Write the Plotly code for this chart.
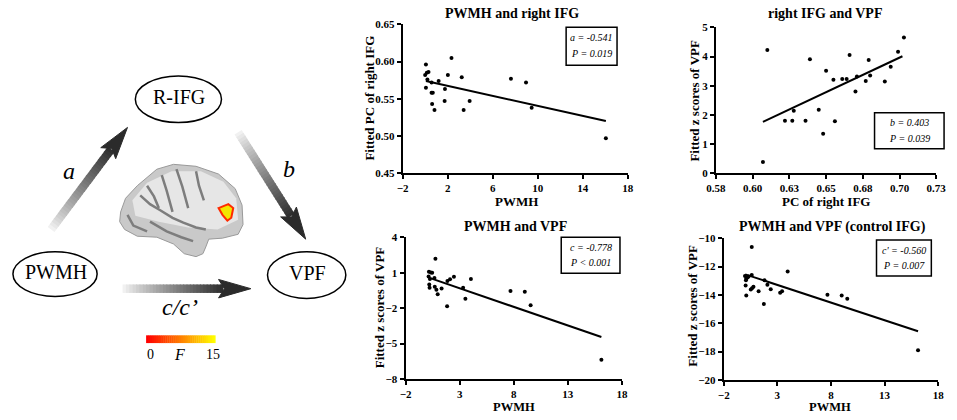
import math
import plotly.graph_objects as go

W, H = 957, 420
SERIF = "Liberation Serif"

# ---- data ----
# PWMH vs fitted PC of right IFG
p1_pwmh = [0.07, 0.0, 0.15, 0.3, 0.2, 0.07, 0.57, 0.57, 0.68, 0.62, 0.83, 1.2,
           1.76, 1.73, 2.02, 2.34, 3.25, 3.42, 3.95, 7.62, 8.96, 9.46, 16.05]
p1_pc = [0.596, 0.582, 0.585, 0.586, 0.576, 0.565, 0.572, 0.558, 0.558, 0.543,
         0.535, 0.574, 0.563, 0.547, 0.582, 0.605, 0.579, 0.535, 0.547, 0.577,
         0.572, 0.538, 0.497]
p1_fit_x = [0.07, 16.05]
p1_fit_y = [0.574, 0.520]

# PC of right IFG vs fitted z scores of VPF
p2_pc = [0.607, 0.610, 0.622, 0.627, 0.628, 0.636, 0.639, 0.645, 0.648, 0.650,
         0.655, 0.656, 0.661, 0.664, 0.666, 0.670, 0.671, 0.677, 0.679, 0.680,
         0.690, 0.694, 0.699, 0.703]
p2_vpf = [0.38, 4.22, 1.80, 1.80, 2.14, 1.80, 3.91, 2.17, 1.35, 3.51,
          3.20, 1.78, 3.23, 3.23, 4.05, 2.80, 3.31, 3.16, 3.88, 3.35,
          3.14, 3.65, 4.16, 4.65]
p2_fit_x = [0.607, 0.702]
p2_fit_y = [1.76, 4.01]

# PWMH vs fitted z scores of VPF
p3_pwmh = [0.16, 0.34, 0.46, 0.13, 0.25, 0.19, 0.22, 0.76, 0.67, 0.70, 0.85, 0.97,
           1.33, 1.84, 1.87, 2.11, 2.47, 3.32, 3.53, 4.04, 7.7, 9.02, 9.56, 16.1]
p3_vpf = [1.08, 1.02, 1.0, 0.67, 0.47, 0.0, -0.28, 2.17, 0.54, -0.2, -0.45, -0.83,
          -0.35, -1.84, 0.3, 0.44, 0.66, -0.28, -1.2, 0.47, -0.55, -0.61, -1.76, -6.36]
p3_fit_x = [0.28, 16.1]
p3_fit_y = [0.54, -4.45]

# PWMH vs fitted z scores of VPF (control IFG)
p4_pwmh = [-0.02, 0.1, 0.22, 0.31, 0.07, 0.04, 0.1, 0.61, 0.61, 0.52, 0.64, 0.77,
           1.25, 1.74, 1.8, 2.07, 2.38, 3.26, 3.44, 3.96, 7.67, 9.0, 9.52, 16.12]
p4_vpf = [-12.67, -12.85, -12.78, -12.71, -12.97, -13.33, -14.04, -10.62, -12.6,
          -13.62, -13.53, -13.42, -13.74, -14.65, -12.97, -13.28, -13.6, -13.85,
          -13.74, -12.35, -13.99, -14.04, -14.28, -17.9]
p4_fit_x = [0.0, 16.12]
p4_fit_y = [-12.55, -16.56]

p2_tickvals = [0.575, 0.6, 0.625, 0.65, 0.675, 0.7, 0.725]
p2_ticktext = ["0.58", "0.60", "0.63", "0.65", "0.68", "0.70", "0.73"]


def P(x, y):
    # pixel position -> paper coords
    return x / W, 1 - y / H


fig = go.Figure()

panels = [
    ("x", "y", p1_pwmh, p1_pc, p1_fit_x, p1_fit_y),
    ("x2", "y2", p2_pc, p2_vpf, p2_fit_x, p2_fit_y),
    ("x3", "y3", p3_pwmh, p3_vpf, p3_fit_x, p3_fit_y),
    ("x4", "y4", p4_pwmh, p4_vpf, p4_fit_x, p4_fit_y),
]
for xa, ya, xs, ys, fx, fy in panels:
    fig.add_trace(go.Scatter(x=xs, y=ys, mode="markers", xaxis=xa, yaxis=ya,
                             marker=dict(color="black", size=4), showlegend=False))
    fig.add_trace(go.Scatter(x=fx, y=fy, mode="lines", xaxis=xa, yaxis=ya,
                             line=dict(color="black", width=2), showlegend=False))


def ax(domain, rng, anchor, **kw):
    d = dict(domain=domain, range=rng, anchor=anchor, showline=True, linecolor="black",
             linewidth=2, ticks="outside", ticklen=4, tickwidth=2, tickcolor="black",
             showgrid=False, zeroline=False, ticklabeloverflow="allow",
             tickfont=dict(family=SERIF, size=11, color="black", weight=700))
    d.update(kw)
    return d


fig.update_layout(
    width=W, height=H, autosize=False,
    margin=dict(l=0, r=0, t=0, b=0),
    paper_bgcolor="white", plot_bgcolor="white",
    xaxis=ax([401 / W, 631 / W], [-2, 18], "y", tick0=-2, dtick=4),
    yaxis=ax([1 - 172 / H, 1 - 19 / H], [0.45, 0.65], "x", tick0=0.45, dtick=0.05, tickformat=".2f"),
    xaxis2=ax([721 / W, 946 / W], [0.575, 0.725], "y2", tickvals=p2_tickvals, ticktext=p2_ticktext),
    yaxis2=ax([1 - 172 / H, 1 - 22 / H], [0, 5], "x2", dtick=1),
    xaxis3=ax([404 / W, 625 / W], [-2, 18], "y3", tick0=-2, dtick=5),
    yaxis3=ax([1 - 384 / H, 1 - 238 / H], [-8, 4], "x3", tick0=-8, dtick=3),
    xaxis4=ax([729 / W, 948 / W], [-2, 18], "y4", tick0=-2, dtick=5),
    yaxis4=ax([1 - 385 / H, 1 - 239 / H], [-20, -10], "x4", tick0=-20, dtick=2),
)

ann = []
shapes = []


def text(x, y, s, size, angle=0, color="black"):
    px, py = P(x, y)
    ann.append(dict(x=px, y=py, xref="paper", yref="paper", text=s, showarrow=False,
                    xanchor="center", yanchor="middle", textangle=angle, borderpad=0,
                    font=dict(family=SERIF, size=size, color=color)))


# panel titles and axis labels
text(513, 8, "<b>PWMH and right IFG</b>", 14)
text(832, 8, "<b>right IFG and VPF</b>", 14)
text(516, 227, "<b>PWMH and VPF</b>", 14)
text(840, 228, "<b>PWMH and VPF (control IFG)</b>", 14)
text(517, 201, "<b>PWMH</b>", 13)
text(833, 201, "<b>PC of right IFG</b>", 13)
text(515, 412.5, "<b>PWMH</b>", 12.5)
text(838, 412.5, "<b>PWMH</b>", 12.5)
text(367, 95, "<b>Fitted PC of right IFG</b>", 13, -90)
text(699, 97, "<b>Fitted z scores of VPF</b>", 13, -90)
text(377, 310, "<b>Fitted z scores of VPF</b>", 13, -90)
text(697, 308, "<b>Fitted z scores of VPF</b>", 13, -90)

# stat boxes
boxes = [
    ((568, 22, 620, 61), "<i>a</i> = -0.541", "<i>P</i> = 0.019"),
    ((883, 110, 954, 147), "<i>b</i> = 0.403", "<i>P</i> = 0.039"),
    ((563, 238, 623, 275), "<i>c</i> = -0.778", "<i>P</i> &lt; 0.001"),
    ((885, 241, 941, 278), "<i>c' = -0.560</i>", "<i>P</i> = 0.007"),
]
for (x0, y0, x1, y1), t1, t2 in boxes:
    a0, b0 = P(x0, y0)
    a1, b1 = P(x1, y1)
    shapes.append(dict(type="rect", xref="paper", yref="paper", x0=a0, x1=a1, y0=b1, y1=b0,
                       line=dict(color="black", width=1.5)))
    cx = (x0 + x1) / 2
    h = y1 - y0
    text(cx, y0 + h * 0.28, "<i>" + t1 + "</i>", 10)
    text(cx, y0 + h * 0.70, "<i>" + t2 + "</i>", 10)

# ---- left diagram ----
for (cx, cy, rx, ry, label) in [(172, 96, 44, 24, "R-IFG"), (46, 276, 43, 23, "PWMH"),
                                (303, 277, 40, 24, "VPF")]:
    a0, b0 = P(cx - rx, cy - ry)
    a1, b1 = P(cx + rx, cy + ry)
    shapes.append(dict(type="circle", xref="paper", yref="paper", x0=a0, x1=a1, y0=b1, y1=b0,
                       line=dict(color="black", width=1.5)))
    text(cx + 1, cy - 2, label, 20)


def arrow(x0, y0, x1, y1, shaft=8.5, head_len=28, head_w=19, n=30):
    dx, dy = x1 - x0, y1 - y0
    L = math.hypot(dx, dy)
    ux, uy = dx / L, dy / L
    bx, by = x1 - ux * head_len, y1 - uy * head_len
    for i in range(n):
        t0 = i / n
        t1 = min(1.0, (i + 1.3) / n)
        g = int(248 - (248 - 45) * ((i + 0.5) / n) ** 0.85)
        sx0, sy0 = P(x0 + (bx - x0) * t0, y0 + (by - y0) * t0)
        sx1, sy1 = P(x0 + (bx - x0) * t1, y0 + (by - y0) * t1)
        shapes.append(dict(type="line", xref="paper", yref="paper", x0=sx0, y0=sy0,
                           x1=sx1, y1=sy1, line=dict(color=f"rgb({g},{g},{g})", width=shaft)))
    nx, ny = -uy, ux
    notch = 5
    pts = [(x1, y1),
           (bx - ux * notch + nx * head_w / 2, by - uy * notch + ny * head_w / 2),
           (bx + ux * 1, by + uy * 1),
           (bx - ux * notch - nx * head_w / 2, by - uy * notch - ny * head_w / 2)]
    path = "M " + " L ".join("%f %f" % P(px, py) for px, py in pts) + " Z"
    shapes.append(dict(type="path", xref="paper", yref="paper", path=path,
                       fillcolor="#2b2b2b", line=dict(color="#2b2b2b", width=1)))


arrow(42, 230, 120, 125)
arrow(233, 130, 302, 240)
arrow(115, 291, 246, 291)

text(60, 170, "<i>a</i>", 24)
text(285, 168, "<i>b</i>", 24)
text(174, 310, "<i>c/c’</i>", 24)

# brain (rough lateral view)
brain = [(113, 212), (118, 198), (130, 185), (150, 168), (167, 163), (190, 165), (213, 173),
         (230, 188), (237, 205), (238, 225), (233, 235), (217, 239), (203, 240), (200, 248),
         (197, 255), (190, 258), (178, 255), (167, 245), (150, 238), (130, 237), (117, 230),
         (112, 222)]
bpath = "M " + " L ".join("%f %f" % P(x, y) for x, y in brain) + " Z"
shapes.append(dict(type="path", xref="paper", yref="paper", path=bpath,
                   fillcolor="#c9c9c9", line=dict(color="#9a9a9a", width=1)))
inner = [(125, 200), (140, 182), (165, 170), (195, 170), (218, 181), (231, 198), (233, 220),
         (212, 230), (182, 228), (152, 222), (128, 216)]
ipath = "M " + " L ".join("%f %f" % P(x, y) for x, y in inner) + " Z"
shapes.append(dict(type="path", xref="paper", yref="paper", path=ipath,
                   fillcolor="#e6e6e6", line=dict(width=0)))
sulci = [
    [(133, 195), (143, 204), (153, 210), (166, 218), (177, 223), (190, 228), (200, 230)],
    [(140, 185), (147, 196), (152, 208)],
    [(155, 174), (160, 190), (166, 212)],
    [(170, 168), (176, 186), (182, 208)],
    [(190, 170), (193, 185), (198, 200)],
    [(143, 222), (160, 232), (175, 238), (187, 242)],
    [(120, 215), (126, 226), (140, 232)],
]
for s in sulci:
    sp = "M " + " L ".join("%f %f" % P(x, y) for x, y in s)
    shapes.append(dict(type="path", xref="paper", yref="paper", path=sp,
                       line=dict(color="#7d7d7d", width=2.5)))
blob = [(213, 208), (223, 204), (228, 208), (226, 218), (222, 221), (217, 215)]
blpath = "M " + " L ".join("%f %f" % P(x, y) for x, y in blob) + " Z"
shapes.append(dict(type="path", xref="paper", yref="paper", path=blpath,
                   fillcolor="#f2e600", line=dict(color="#ff2a00", width=2)))

# F colour bar
nbar = 36
for i in range(nbar):
    g = int(255 * i / (nbar - 1))
    a0, b0 = P(139 + 71 * i / nbar, 339)
    a1, b1 = P(139 + 71 * (i + 1.2) / nbar, 347)
    shapes.append(dict(type="rect", xref="paper", yref="paper", x0=a0, x1=min(a1, 210 / W),
                       y0=b1, y1=b0, fillcolor=f"rgb(255,{g},0)", line=dict(width=0)))
text(143, 359, "0", 14)
text(173, 359, "<i>F</i>", 16)
text(207, 359, "15", 14)

fig.update_layout(annotations=ann, shapes=shapes)
fig.write_html("out.html", config={"displayModeBar": False},
               post_script="document.body.style.margin='0px';"
                           "document.documentElement.style.overflow='hidden';")
